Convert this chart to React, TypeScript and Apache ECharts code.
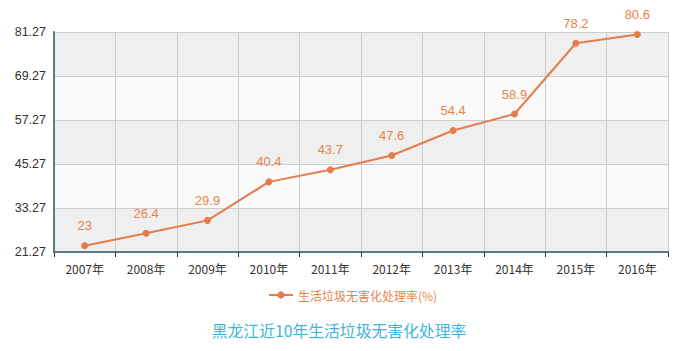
import React, { useEffect, useRef } from "react";
import * as echarts from "echarts";

const categories = ["2007年", "2008年", "2009年", "2010年", "2011年", "2012年", "2013年", "2014年", "2015年", "2016年"];
const values = [23, 26.4, 29.9, 40.4, 43.7, 47.6, 54.4, 58.9, 78.2, 80.6];
const seriesName = "生活垃圾无害化处理率(%)";
const titleText = "黑龙江近10年生活垃圾无害化处理率";
const yMin = 21.27;
const yMax = 81.27;
const yStep = 12;

export default function App() {
  const ref = useRef<HTMLDivElement>(null);
  useEffect(() => {
    if (!ref.current) return;
    const chart = echarts.init(ref.current, undefined, { renderer: "svg" });
    const font = "'Noto Sans CJK SC', 'Noto Sans', sans-serif";
    const latin = "'Liberation Sans', Arial, sans-serif";
    chart.setOption({
      animation: false,
      backgroundColor: "#ffffff",
      title: {
        text: titleText,
        left: "center",
        top: 318,
        textStyle: { color: "#3fb5d9", fontSize: 15.8, fontWeight: "normal", fontFamily: font },
      },
      legend: {
        data: [seriesName],
        left: 268,
        top: 289,
        padding: 0,
        itemWidth: 24,
        itemHeight: 9,
        itemGap: 4,
        textStyle: { color: "#e8834a", fontSize: 12, fontFamily: font },
      },
      grid: { left: 54, right: 10, top: 32, bottom: 99, containLabel: false },
      xAxis: {
        type: "category",
        data: categories,
        boundaryGap: true,
        axisLine: { lineStyle: { color: "#5b7a8c", width: 2 } },
        axisTick: { show: true, alignWithLabel: false, length: 5, lineStyle: { color: "#333" } },
        axisLabel: { color: "#333", fontSize: 12, margin: 10, fontFamily: font },
        splitLine: { show: true, lineStyle: { color: "#cccccc" } },
      },
      yAxis: {
        type: "value",
        min: yMin,
        max: yMax,
        interval: yStep,
        axisLine: { show: true, lineStyle: { color: "#5b7a8c", width: 2 } },
        axisTick: { show: false },
        axisLabel: { color: "#333", fontSize: 12.5, margin: 8, fontFamily: latin, formatter: (v: number) => v.toFixed(2) },
        splitLine: { show: true, lineStyle: { color: "#cccccc" } },
        splitArea: { show: true, areaStyle: { color: ["#efefef", "#fafafa"] } },
      },
      series: [
        {
          name: seriesName,
          type: "line",
          data: values,
          symbol: "circle",
          symbolSize: 7,
          lineStyle: { color: "#e47d4b", width: 2 },
          itemStyle: { color: "#e47d4b" },
          label: {
            show: true,
            position: "top",
            distance: 10,
            color: "#e8834a",
            fontSize: 13,
            fontFamily: latin,
          },
        },
      ],
    });
    return () => chart.dispose();
  }, []);
  return <div ref={ref} style={{ position: "absolute", left: 0, top: 0, width: 678, height: 351 }} />;
}
